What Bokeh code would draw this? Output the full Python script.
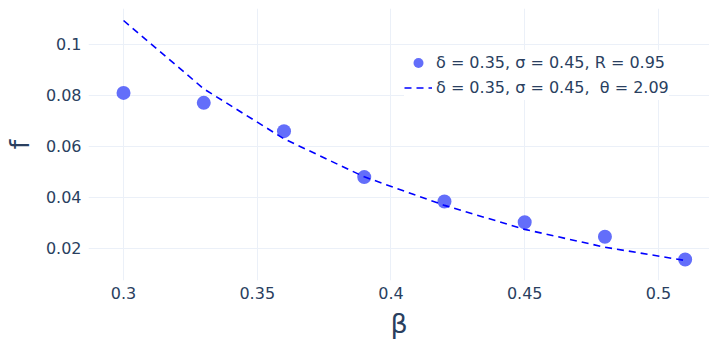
from bokeh.plotting import figure
from bokeh.models import Range1d, FixedTicker, Legend, LegendItem
from bokeh.embed import file_html
from bokeh.resources import INLINE

# Data
beta = [0.30, 0.33, 0.36, 0.39, 0.42, 0.45, 0.48, 0.51]
f_points = [0.081, 0.0771, 0.066, 0.048, 0.0384, 0.0303, 0.0246, 0.0157]
f_fit = [0.1094, 0.0826, 0.063, 0.0481, 0.0369, 0.0275, 0.0205, 0.0153]
points_label = "δ = 0.35, σ = 0.45, R = 0.95"
fit_label = "δ = 0.35, σ = 0.45,  θ = 2.09"
x_ticks = [0.3, 0.35, 0.4, 0.45, 0.5]
x_tick_labels = ["0.3", "0.35", "0.4", "0.45", "0.5"]
y_ticks = [0.02, 0.04, 0.06, 0.08, 0.1]
y_tick_labels = ["0.02", "0.04", "0.06", "0.08", "0.1"]

FONT = "DejaVu Sans"
TXT = "#2a3f5f"
GRID = "#ebf0f8"

p = figure(frame_width=621, frame_height=272,
           min_border_left=80, min_border_right=0, min_border_top=8, min_border_bottom=55,
           x_range=Range1d(0.2869, 0.5191), y_range=Range1d(0.00745, 0.1141),
           output_backend="svg", toolbar_location=None,
           background_fill_color="white", border_fill_color="white")
p.outline_line_color = None

pts = p.scatter(beta, f_points, size=14, color="#636efa", line_color=None)
fit = p.line(beta, f_fit, line_color="blue", line_width=1.6, line_dash="7 5")

for ax in (p.xaxis[0], p.yaxis[0]):
    ax.axis_line_color = None
    ax.major_tick_line_color = None
    ax.minor_tick_line_color = None
    ax.major_tick_out = 0
    ax.major_tick_in = 0
    ax.minor_tick_out = 0
    ax.major_label_text_font = FONT
    ax.major_label_text_font_size = "16px"
    ax.major_label_text_color = TXT
    ax.axis_label_text_font = FONT
    ax.axis_label_text_font_size = "27px"
    ax.axis_label_text_font_style = "normal"
    ax.axis_label_text_color = TXT

p.xaxis.ticker = FixedTicker(ticks=x_ticks)
p.yaxis.ticker = FixedTicker(ticks=y_ticks)
p.xaxis.major_label_overrides = {t: l for t, l in zip(x_ticks, x_tick_labels)}
p.yaxis.major_label_overrides = {t: l for t, l in zip(y_ticks, y_tick_labels)}
p.xaxis.axis_label = "β"
p.yaxis.axis_label = "f"
p.xaxis.major_label_standoff = 6
p.yaxis.major_label_standoff = 7
p.xaxis.axis_label_standoff = 6
p.yaxis.axis_label_standoff = 8

p.xgrid.grid_line_color = GRID
p.ygrid.grid_line_color = GRID
p.xgrid.grid_line_width = 1
p.ygrid.grid_line_width = 1

legend = Legend(items=[LegendItem(label=points_label, renderers=[pts]),
                       LegendItem(label=fit_label, renderers=[fit])],
                location=(316, 180))
legend.label_text_font = FONT
legend.label_text_font_size = "16px"
legend.label_text_color = TXT
legend.border_line_color = None
legend.background_fill_color = "white"
legend.background_fill_alpha = 1.0
legend.padding = 4
legend.spacing = 0
legend.margin = 0
legend.glyph_width = 28
legend.glyph_height = 25
legend.label_height = 25
legend.label_standoff = 4
p.add_layout(legend, "center")

open("out.html", "w").write(file_html(p, INLINE))
